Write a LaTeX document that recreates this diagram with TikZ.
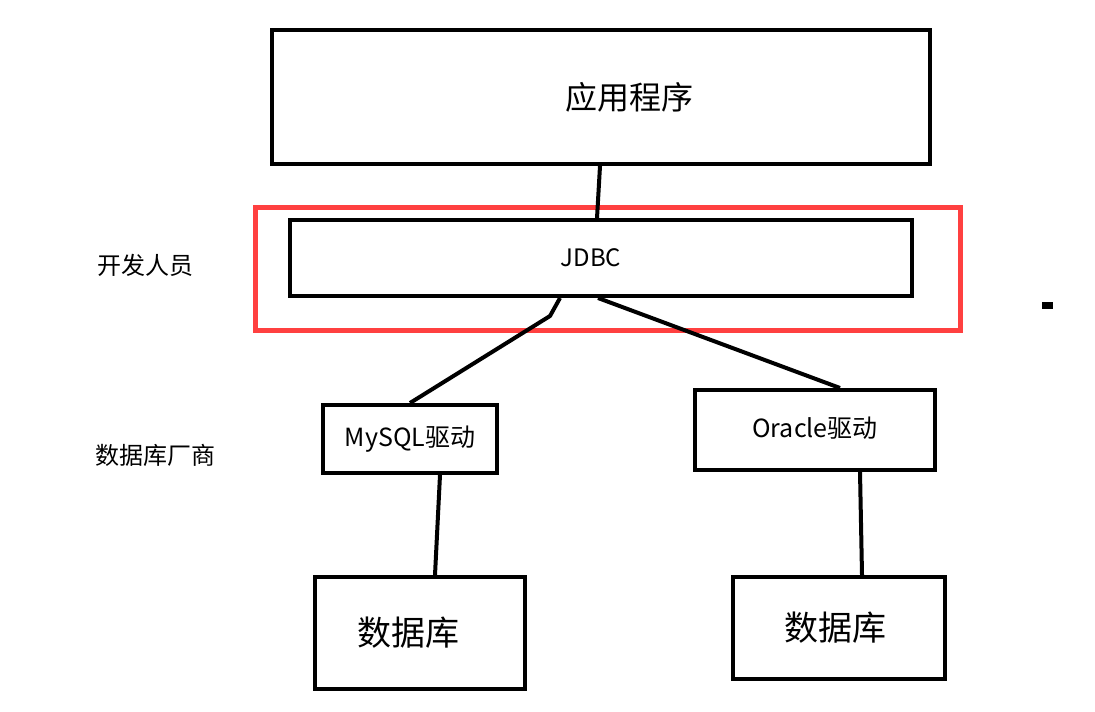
\documentclass[tikz,border=0pt]{standalone}
\usepackage{fontspec}
\setmainfont{Noto Sans CJK SC}
\tikzset{
  box/.style={draw, line width=2pt, inner sep=0pt},
  link/.style={line width=2pt}
}
\begin{document}
\begin{tikzpicture}[x=0.5pt,y=-0.5pt]
\useasboundingbox[fill=white] (0,0) rectangle (1095,711);

% couche application
\node[box, minimum width=329pt, minimum height=67pt, font=\fontsize{16}{18}\selectfont] (app) at (601,97) {\hspace{28pt}\raisebox{-6pt}{应用程序}};
% cadre rouge + JDBC
\draw[red!75, line width=2.5pt] (255,207) rectangle (960,330);
\node[box, minimum width=311pt, minimum height=38pt, font=\fontsize{12}{14}\selectfont] (jdbc) at (601,258) {\hspace{-10pt}JDBC};
% pilotes
\node[box, minimum width=87pt, minimum height=34pt, font=\fontsize{12.5}{14}\selectfont] (mysql) at (410,439) {MySQL驱动};
\node[box, minimum width=120pt, minimum height=40pt, font=\fontsize{12.5}{14}\selectfont] (oracle) at (815,430) {\raisebox{3pt}{Oracle驱动}};
% bases
\node[box, minimum width=105pt, minimum height=56pt, font=\fontsize{17}{19}\selectfont] (db1) at (420,633) {\hspace{-12pt}\raisebox{-8pt}{数据库}};
\node[box, minimum width=106pt, minimum height=51pt, font=\fontsize{17}{19}\selectfont] (db2) at (839,628) {\hspace{-4pt}\raisebox{-4pt}{数据库}};

% libellés
\node[font=\fontsize{12}{14}\selectfont] (dev) at (145,265) {开发人员};
\node[font=\fontsize{12}{14}\selectfont] (vendor) at (155,455) {数据库厂商};
\fill (1042,302) rectangle (1053,309);

% liaisons
\draw[link] ([xshift=-0.5pt]app.south) -- ([xshift=-2pt]jdbc.north);
\draw[link] ([xshift=-20.5pt]jdbc.south) -- ++(-10,18) -- (mysql.north);
\draw[link] ([xshift=-1.5pt]jdbc.south) -- ([xshift=12.5pt]oracle.north);
\draw[link] ([xshift=15pt]mysql.south) -- ([xshift=7.5pt]db1.north);
\draw[link] ([xshift=22.5pt]oracle.south) -- ([xshift=11.5pt]db2.north);
\end{tikzpicture}
\end{document}
